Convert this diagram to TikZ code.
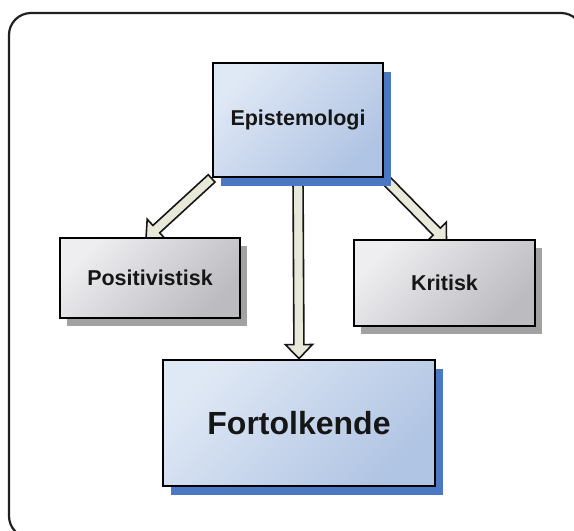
\documentclass[tikz,border=0pt]{standalone}
\usepackage{fontspec}
\setmainfont{Liberation Sans}
\usetikzlibrary{calc,shadows,backgrounds}

\definecolor{blueA}{HTML}{DFE8F5}
\definecolor{blueB}{HTML}{B0C4E3}
\definecolor{blueshadow}{HTML}{4A78C2}
\definecolor{grayA}{HTML}{EEEEF1}
\definecolor{grayB}{HTML}{BBBBC0}
\definecolor{grayshadow}{HTML}{A2A2A2}
\definecolor{arrowfill}{HTML}{E9E9D9}
\definecolor{inkdark}{HTML}{161616}
\definecolor{framecol}{HTML}{202020}

\tikzset{
  box/.style={draw=black, line width=2.8pt, inner sep=0pt, text=inkdark,
    font=\bfseries\fontsize{21.5}{24}\selectfont},
  bluebox/.style={box, top color=blueA, bottom color=blueB, shading angle=45,
    drop shadow={shadow xshift=8pt, shadow yshift=-9pt, fill=blueshadow, opacity=1}},
  graybox/.style={box, top color=grayA, bottom color=grayB, shading angle=45,
    drop shadow={shadow xshift=7pt, shadow yshift=-8pt, fill=grayshadow, opacity=1}},
  arrowbody/.style={draw=inkdark, line width=1.6pt, fill=arrowfill, line join=miter},
  frame/.style={draw=framecol, line width=2.2pt, rounded corners=22pt}
}

% block arrow between two points: shaft half-width 5pt, head 14pt long
\newcommand\blockarrow[2]{%
  \coordinate (ba-s) at (#1);
  \coordinate (ba-t) at (#2);
  \coordinate (ba-h) at ($(ba-t)!14pt!(ba-s)$);
  \draw[arrowbody] ($(ba-s)!5pt!90:(ba-t)$) -- ($(ba-h)!5pt!-90:(ba-s)$)
    -- ($(ba-h)!13.5pt!-90:(ba-s)$) -- (ba-t) -- ($(ba-h)!13.5pt!90:(ba-s)$)
    -- ($(ba-h)!5pt!90:(ba-s)$) -- ($(ba-s)!5pt!-90:(ba-t)$) -- cycle;
}

\begin{document}
\begin{tikzpicture}[x=1pt,y=-1pt]
  \useasboundingbox (0,0) rectangle (574,531);

  \draw[frame] (9,13) rectangle (583,538);

  \node[bluebox, minimum width=170pt, minimum height=114pt] (epi) at (298,120) {Epistemologi};
  \node[graybox, minimum width=180pt, minimum height=80pt] (pos) at (150,278) {Positivistisk};
  \node[graybox, minimum width=181pt, minimum height=86pt] (kri) at (444.5,283) {Kritisk};
  \node[bluebox, minimum width=272pt, minimum height=126pt,
        font=\bfseries\fontsize{32}{36}\selectfont] (fort) at (299,423) {Fortolkende};

  \coordinate (posin) at ($(pos.north)+(-4,2)$);
  \coordinate (kriin) at ($(kri.north)+(2,3)$);

  \begin{scope}[on background layer]
    \fill[white] (0,0) rectangle (574,531);
    \blockarrow{epi.south}{fort.north}
    \blockarrow{epi.south west}{posin}
    \blockarrow{epi.south east}{kriin}
  \end{scope}
\end{tikzpicture}
\end{document}
